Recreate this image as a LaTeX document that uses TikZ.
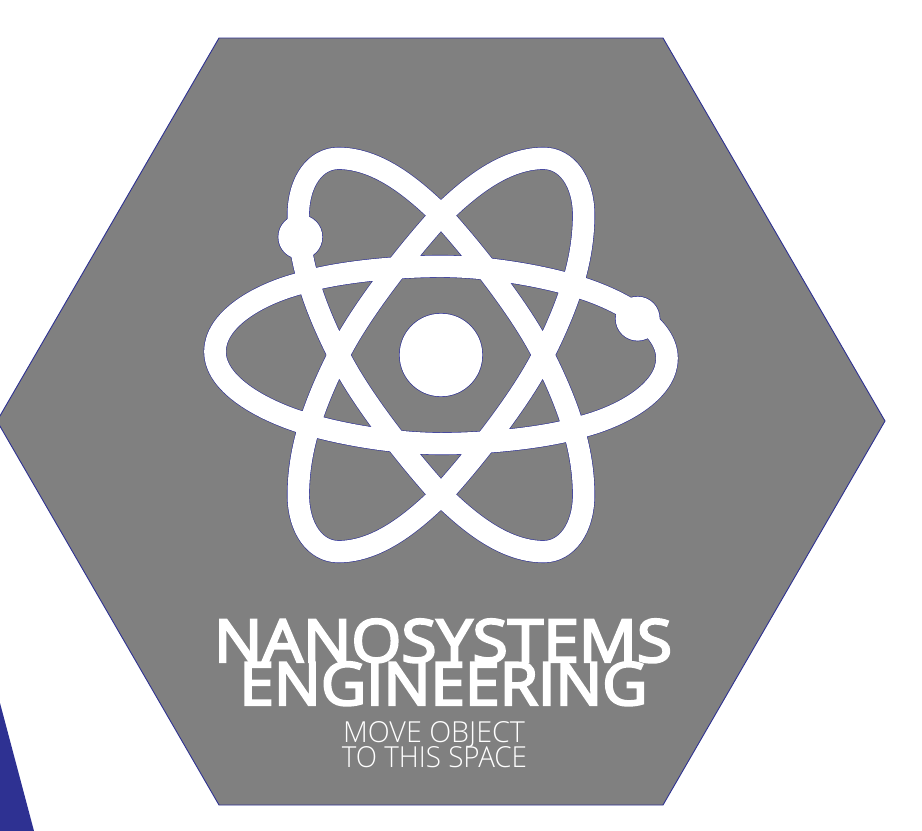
\documentclass[tikz,border=0pt]{standalone}
\usepackage{fontspec}
\setmainfont{Open Sans}
\newfontfamily\headfont[FakeBold=3.8]{Open Sans}
\newfontfamily\subfont{Open Sans Light}
\definecolor{navy}{HTML}{2E3192}
\definecolor{hexgray}{HTML}{808080}
\tikzset{
  orbitpaths/.style={line join=round},
  headtext/.style={anchor=base,inner sep=0pt,text=white,font=\headfont},
  subtext/.style={anchor=base,inner sep=0pt,text=white,font=\subfont},
}
\newcommand{\orbits}{
  (75,665) .. controls (75,570) and (200,495) .. (327,461)
  .. controls (420,430) and (600,409) .. (753,409)
  .. controls (900,409) and (1070,440) .. (1178,475)
  .. controls (1300,515) and (1431,590) .. (1431,685)
  .. controls (1431,780) and (1306,855) .. (1179,889)
  .. controls (1086,920) and (906,941) .. (753,941)
  .. controls (606,941) and (436,910) .. (328,875)
  .. controls (206,835) and (75,760) .. (75,665) -- cycle
  (445,85) .. controls (570,85) and (680,185) .. (753,255)
  .. controls (840,350) and (990,535) .. (1060,675)
  .. controls (1130,815) and (1181,950) .. (1181,1095)
  .. controls (1181,1195) and (1130,1265) .. (1061,1265)
  .. controls (936,1265) and (826,1165) .. (753,1095)
  .. controls (666,1000) and (516,815) .. (446,675)
  .. controls (376,535) and (325,400) .. (325,255)
  .. controls (325,155) and (376,85) .. (445,85) -- cycle
  (1061,85) .. controls (936,85) and (826,185) .. (753,255)
  .. controls (666,350) and (516,535) .. (446,675)
  .. controls (376,815) and (325,950) .. (325,1095)
  .. controls (325,1195) and (376,1265) .. (445,1265)
  .. controls (570,1265) and (680,1165) .. (753,1095)
  .. controls (840,1000) and (990,815) .. (1060,675)
  .. controls (1130,535) and (1181,400) .. (1181,255)
  .. controls (1181,155) and (1130,85) .. (1061,85) -- cycle
}
\begin{document}
\begin{tikzpicture}[x=1bp,y=-1bp]
  \useasboundingbox (0,0) rectangle (922,831);
  \clip (0,0) rectangle (922,831);
  \fill[white] (0,0) rectangle (922,831);
  \fill[navy] (0,703) -- (34,831) -- (0,831) -- cycle;
  \draw[navy,fill=hexgray,line width=0.9bp,line join=miter]
    (219,38) -- (663,38) -- (885,421) -- (663,805) -- (219,805) -- (-3,421) -- cycle;
  \begin{scope}[shift={(190,130)},x=0.33333bp,y=-0.33333bp]
    % outline beneath, white band on top
    \draw[navy,line width=22.8bp,orbitpaths] \orbits;
    \fill[navy] (753,675) circle[radius=126] (331,321) circle[radius=68] (1343,566) circle[radius=68];
    \draw[white,line width=21.6bp,orbitpaths] \orbits;
    \fill[white] (753,675) circle[radius=124] (331,321) circle[radius=66] (1343,566) circle[radius=66];
  \end{scope}
  \node[headtext] (title1) at (443,662) {\resizebox{458bp}{43bp}{NANOSYSTEMS}};
  \node[headtext] (title2) at (443.5,705) {\resizebox{408bp}{43bp}{ENGINEERING}};
  \node[subtext] (sub1) at (434,742) {\resizebox{182bp}{21bp}{MOVE OBJECT}};
  \node[subtext] (sub2) at (434.5,767) {\resizebox{185bp}{21bp}{TO THIS SPACE}};
\end{tikzpicture}
\end{document}
